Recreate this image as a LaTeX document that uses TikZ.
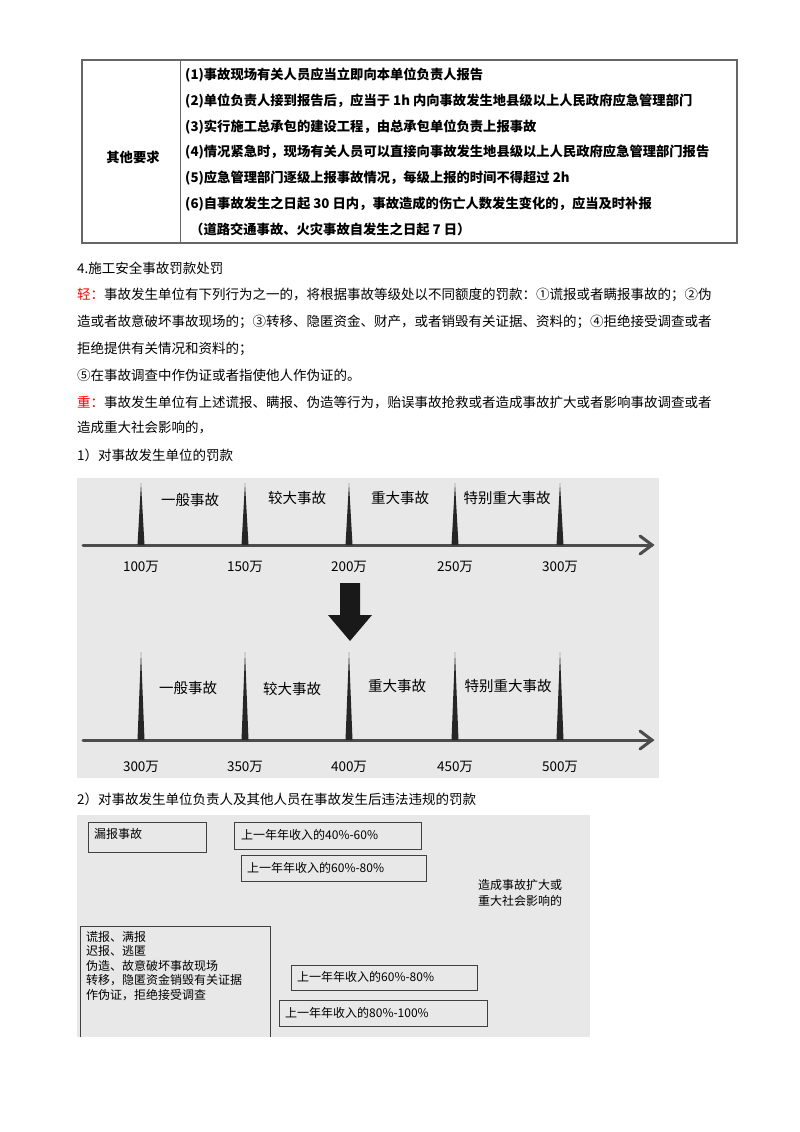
\documentclass[tikz,border=0pt]{standalone}
\usepackage{fontspec}
\setmainfont{Noto Sans CJK SC}
\begin{document}
\begin{tikzpicture}[x=1pt,y=-1pt,
  body/.style={anchor=west,inner sep=0pt,font=\fontsize{13.5}{14}\selectfont},
  tab/.style={anchor=west,inner sep=0pt,font=\fontsize{13.3}{14}\selectfont\bfseries},
  cat/.style={inner sep=0pt,font=\fontsize{14.5}{15}\selectfont},
  val/.style={inner sep=0pt,font=\fontsize{13.5}{14}\selectfont},
  pen/.style={inner sep=0pt,font=\fontsize{12}{12}\selectfont},
  pbox/.style={draw=black!75,line width=0.8pt},
  spike/.style={fill=black!85}]
\useasboundingbox (0,0) rectangle (800,1132);
\fill[white] (0,0) rectangle (800,1132);
% table
\draw[black!60,line width=1.2pt] (82,60) rectangle (737,243);
\draw[black!60,line width=1pt] (180,60) -- (180,243);
\node[tab] (t0) at (133,157) [anchor=center] {其他要求};
\node[tab] (t1) at (185,75) {(1)事故现场有关人员应当立即向本单位负责人报告};
\node[tab] (t2) at (185,101) {(2)单位负责人接到报告后，应当于 1h 内向事故发生地县级以上人民政府应急管理部门};
\node[tab] (t3) at (185,127) {(3)实行施工总承包的建设工程，由总承包单位负责上报事故};
\node[tab] (t4) at (185,152) {(4)情况紧急时，现场有关人员可以直接向事故发生地县级以上人民政府应急管理部门报告};
\node[tab] (t5) at (185,178) {(5)应急管理部门逐级上报事故情况，每级上报的时间不得超过 2h};
\node[tab] (t6) at (185,204) {(6)自事故发生之日起 30 日内，事故造成的伤亡人数发生变化的，应当及时补报};
\node[tab] (t7) at (190,229) {（道路交通事故、火灾事故自发生之日起 7 日）};
% text
\node[body] (p0) at (77,268) {4.施工安全事故罚款处罚};
\node[body] (p1) at (77,295) {\textcolor{red}{轻：}事故发生单位有下列行为之一的，将根据事故等级处以不同额度的罚款：①谎报或者瞒报事故的；②伪};
\node[body] (p2) at (77,322) {造或者故意破坏事故现场的；③转移、隐匿资金、财产，或者销毁有关证据、资料的；④拒绝接受调查或者};
\node[body] (p3) at (77,349) {拒绝提供有关情况和资料的；};
\node[body] (p4) at (77,375) {⑤在事故调查中作伪证或者指使他人作伪证的。};
\node[body] (p5) at (77,402) {\textcolor{red}{重：}事故发生单位有上述谎报、瞒报、伪造等行为，贻误事故抢救或者造成事故扩大或者影响事故调查或者};
\node[body] (p6) at (77,428) {造成重大社会影响的，};
\node[body] (p7) at (77,455) {1）对事故发生单位的罚款};
% timeline panel
\fill[black!9] (77,478) rectangle (659,778);
\coordinate (a1s) at (83,545); \coordinate (a1e) at (652,545);
\draw[black!70,line width=3pt,line cap=round] (a1s) -- (a1e);
\draw[black!70,line width=3pt,line cap=round] (640,536) -- (a1e) -- (640,554);
\foreach \x/\v in {141/100万,245/150万,349/200万,455/250万,560/300万}{
  \fill[spike] (\x-3.5,545) -- (\x,483) -- (\x+3.5,545) -- cycle;
  \node[val] at (\x,567) {\v};}
\node[cat] (c1) at (190,500) {一般事故};
\node[cat] (c2) at (297,498) {较大事故};
\node[cat] (c3) at (400,498) {重大事故};
\node[cat] (c4) at (507,498) {特别重大事故};
\fill[black!90] (340,583) rectangle (360,615) -- (372,615) -- (350,641) -- (328,615) -- (340,615);
\coordinate (a2s) at (83,740); \coordinate (a2e) at (652,740);
\draw[black!70,line width=3pt,line cap=round] (a2s) -- (a2e);
\draw[black!70,line width=3pt,line cap=round] (640,731) -- (a2e) -- (640,749);
\foreach \x/\v in {141/300万,245/350万,349/400万,455/450万,560/500万}{
  \fill[spike] (\x-3.5,740) -- (\x,652) -- (\x+3.5,740) -- cycle;
  \node[val] at (\x,767) {\v};}
\node[cat] (d1) at (188,688) {一般事故};
\node[cat] (d2) at (292,689) {较大事故};
\node[cat] (d3) at (397,686) {重大事故};
\node[cat] (d4) at (508,686) {特别重大事故};
\node[body] (p8) at (77,799) {2）对事故发生单位负责人及其他人员在事故发生后违法违规的罚款};
% penalty panel
\fill[black!9] (77,815) rectangle (590,1037);
\draw[pbox] (88,822) rectangle (206,852);
\node[pen,anchor=north west] (b1) at (94,828) {漏报事故};
\draw[pbox] (234,822) rectangle (421,849);
\node[pen,anchor=west] (b2) at (241,835) {上一年年收入的40\%-60\%};
\draw[pbox] (241,855) rectangle (426,881);
\node[pen,anchor=west] (b3) at (247,868) {上一年年收入的60\%-80\%};
\node[pen,anchor=north west,align=left] (b4) at (478,879) {造成事故扩大或\\[4pt]重大社会影响的};
\draw[pbox] (80,1037) -- (80,926) -- (270,926) -- (270,1037);
\node[pen,anchor=north west,align=left] (b5) at (86,931) {谎报、满报\\[2.5pt]迟报、逃匿\\[2.5pt]伪造、故意破坏事故现场\\[2.5pt]转移，隐匿资金销毁有关证据\\[2.5pt]作伪证，拒绝接受调查};
\draw[pbox] (291,965) rectangle (477,990);
\node[pen,anchor=west] (b6) at (297,977) {上一年年收入的60\%-80\%};
\draw[pbox] (279,1000) rectangle (487,1026);
\node[pen,anchor=west] (b7) at (285,1013) {上一年年收入的80\%-100\%};
\end{tikzpicture}
\end{document}
